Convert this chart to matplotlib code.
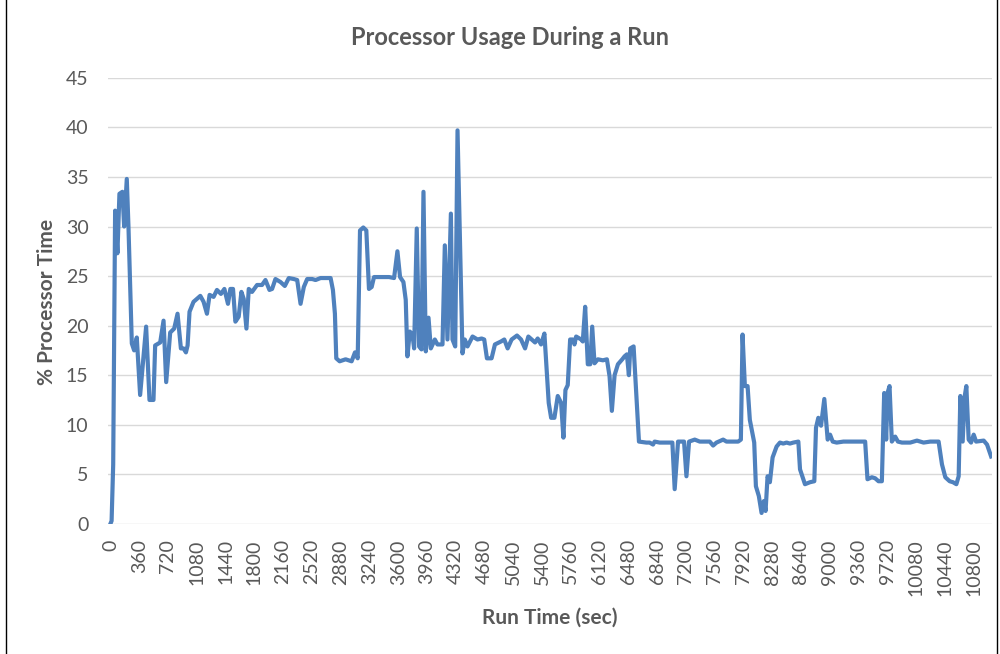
import matplotlib.pyplot as plt
from matplotlib.patches import Rectangle

# run time (sec) and % processor time
run_time = [0, 15, 35, 59, 88, 113, 150, 172, 205, 226, 268, 297, 330, 372, 447,
            489, 539, 560, 623, 665, 698, 748, 798, 840, 882, 915, 945, 966, 990,
            1040, 1125, 1166, 1208, 1241, 1291, 1333, 1383, 1426, 1471, 1501, 1534,
            1564, 1605, 1639, 1668, 1702, 1731, 1772, 1835, 1897, 1940, 1990, 2023,
            2065, 2128, 2182, 2232, 2295, 2337, 2379, 2420, 2462, 2525, 2567, 2630,
            2755, 2784, 2809, 2826, 2868, 2943, 3018, 3060, 3094, 3123, 3164, 3202,
            3235, 3269, 3298, 3486, 3549, 3591, 3624, 3666, 3695, 3716, 3746, 3779,
            3800, 3833, 3862, 3892, 3917, 3946, 3980, 4009, 4059, 4092, 4155, 4184,
            4217, 4260, 4280, 4314, 4343, 4405, 4434, 4468, 4531, 4593, 4644, 4677,
            4711, 4769, 4811, 4887, 4928, 4970, 5020, 5087, 5138, 5188, 5229, 5271,
            5313, 5346, 5388, 5430, 5484, 5514, 5555, 5597, 5639, 5668, 5693, 5722,
            5752, 5785, 5806, 5827, 5890, 5910, 5940, 5973, 6003, 6028, 6057, 6099,
            6162, 6212, 6245, 6274, 6308, 6350, 6404, 6433, 6462, 6487, 6504, 6546,
            6613, 6705, 6747, 6789, 6809, 6872, 7031, 7060, 7102, 7177, 7207, 7240,
            7311, 7374, 7499, 7541, 7583, 7666, 7708, 7854, 7888, 7909, 7938, 7972,
            8000, 8055, 8076, 8113, 8147, 8176, 8197, 8222, 8251, 8285, 8335, 8377,
            8418, 8460, 8502, 8544, 8607, 8628, 8690, 8753, 8807, 8828, 8857, 8891,
            8932, 8974, 9004, 9037, 9087, 9171, 9443, 9472, 9527, 9568, 9610, 9652,
            9681, 9706, 9723, 9748, 9777, 9819, 9853, 9903, 10007, 10091, 10174,
            10258, 10362, 10404, 10446, 10500, 10542, 10584, 10613, 10634, 10663,
            10689, 10709, 10738, 10768, 10801, 10831, 10926, 10968, 11019]
cpu = [0, 0.3, 6, 31.6, 27.3, 33.3, 33.5, 30, 34.8, 30, 18.2, 17.5, 18.8, 13, 19.9,
       12.5, 12.5, 18, 18.3, 20.5, 14.3, 19.3, 19.7, 21.2, 17.7, 17.7, 17.3, 18, 21.4,
       22.4, 23, 22.4, 21.2, 23.1, 22.9, 23.6, 23.2, 23.7, 22.2, 23.7, 23.7,
       20.4, 20.9, 23.4, 22.7, 19.7, 23.7, 23.4, 24.1, 24.1, 24.6, 23.6, 23.7,
       24.7, 24.4, 24.0, 24.8, 24.7, 24.6, 22.2, 23.9, 24.7, 24.7, 24.6, 24.8,
       24.8, 23.6, 21.2, 16.7, 16.4, 16.6, 16.4, 17.3, 16.7, 29.6, 29.9, 29.6,
       23.7, 23.9, 24.9, 24.9, 24.8, 27.5, 24.9, 24.4, 22.6, 16.9, 19.4, 19.1,
       17.7, 29.8, 17.9, 17.6, 33.5, 17.4, 20.8, 17.7, 18.6, 18.1, 18.1, 28.1,
       18.6, 31.3, 18.6, 17.9, 39.7, 17.2, 18.6, 17.9, 18.9, 18.6, 18.7, 18.6,
       16.7, 16.7, 18.1, 18.4, 18.6, 17.7, 18.6, 19.0, 18.6, 17.7, 18.9, 18.6,
       18.3, 18.7, 18.1, 19.2, 12.2, 10.7, 10.7, 12.9, 12.2, 8.7, 13.5, 14.0,
       18.6, 18.6, 18.1, 18.9, 18.6, 18.4, 21.9, 16.1, 16.1, 19.9, 16.2, 16.6,
       16.5, 16.6, 14.9, 11.4, 15.0, 16.1, 16.6, 16.9, 17.1, 15.0, 17.7, 17.9,
       8.3, 8.2, 8.2, 8.0, 8.3, 8.2, 8.2, 3.5, 8.3, 8.3, 4.8, 8.3,
       8.5, 8.3, 8.3, 7.9, 8.2, 8.5, 8.3, 8.3, 8.5, 19.1, 13.9, 13.9,
       10.5, 8.2, 3.8, 2.8, 1.1, 2.3, 1.3, 4.8, 4.2, 6.7, 7.8, 8.2,
       8.1, 8.2, 8.1, 8.2, 8.3, 5.5, 4.0, 4.2, 4.3, 9.7, 10.7, 9.9,
       12.6, 8.5, 9.0, 8.3, 8.2, 8.3, 8.3, 4.5, 4.7, 4.6, 4.3, 4.3,
       13.2, 8.5, 13.2, 13.9, 8.3, 8.8, 8.3, 8.2, 8.2, 8.4, 8.2,
       8.3, 8.3, 6.0, 4.7, 4.3, 4.2, 4.0, 4.8, 12.9, 8.3,
       12.9, 13.9, 8.5, 8.2, 9.0, 8.3, 8.4, 8.0, 6.8]

x_ticks = list(range(0, 10801, 360))
y_ticks = list(range(0, 46, 5))

plt.rcParams['font.family'] = ['Lato', 'DejaVu Sans']
grey = '#595959'

fig = plt.figure(figsize=(10, 6.54), dpi=100)
ax = fig.add_axes([0.108, 0.199, 0.884, 0.682])

ax.plot(run_time, cpu, color='#4F81BD', linewidth=3, solid_joinstyle='round')

ax.set_xlim(-30, 11030)
ax.set_ylim(0, 45)
ax.set_xticks(x_ticks)
ax.set_xticklabels([str(t) for t in x_ticks], rotation=90, fontsize=14, color=grey)
ax.set_yticks(y_ticks)
ax.set_yticklabels([str(v) for v in y_ticks], fontsize=14, color=grey)
ax.tick_params(axis='x', length=0, pad=11)
ax.tick_params(axis='y', length=0, pad=14)
ax.yaxis.grid(True, color='#D9D9D9', linewidth=1)
ax.set_axisbelow(True)
for s in ax.spines.values():
    s.set_visible(False)

fig.text(0.51, 0.942, 'Processor Usage During a Run', fontsize=17, fontweight='bold',
         color=grey, ha='center', va='center')
fig.text(0.55, 0.055, 'Run Time (sec)', fontsize=15, fontweight='bold', color=grey,
         ha='center', va='center')
fig.text(0.047, 0.538, '% Processor Time', fontsize=15, fontweight='bold', color=grey,
         ha='center', va='center', rotation=90)

# outer frame of the chart
fig.patches.append(Rectangle((0.006, -0.01), 0.991, 1.02, transform=fig.transFigure,
                             fill=False, edgecolor='black', linewidth=1))

fig.savefig('out.png')
